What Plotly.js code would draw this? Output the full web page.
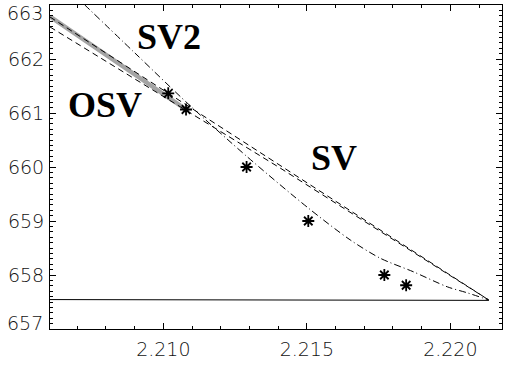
<!DOCTYPE html>
<html>
<head>
<meta charset="utf-8">
<script src="https://cdn.plot.ly/plotly-3.0.1.min.js"></script>
<style>
  html, body { margin: 0; padding: 0; background: #ffffff; }
  #chart { width: 505px; height: 367px; }
</style>
</head>
<body>
<div id="chart"></div>
<script>
// Measured points (asterisks)
const pointX = [2.21017, 2.21079, 2.21290, 2.21505, 2.21770, 2.21846];
const pointY = [661.365, 661.065, 660.00, 659.00, 658.00, 657.81];

// OSV: straight segment ending on the second point
const osvX = [2.20605, 2.21079];
const osvY = [662.787, 661.065];

// SV: two dashed extrapolations meeting the base level
const svUpperX = [2.20605, 2.22134];
const svUpperY = [662.778, 657.537];
const svLowerX = [2.20605, 2.21407, 2.22134];
const svLowerY = [662.593, 659.981, 657.537];

// SV2: curved dash-dot extrapolation
const sv2X = [2.20689, 2.20901, 2.21086, 2.21292, 2.21505, 2.21651, 2.21756, 2.21871, 2.21990, 2.22059, 2.22134];
const sv2Y = [663.19, 662.11, 661.17, 660.19, 659.24, 658.65, 658.31, 658.06, 657.78, 657.67, 657.537];

// Base level
const baseX = [2.20605, 2.22134];
const baseY = [657.545, 657.530];

// Axis ranges and ticks
const xRange = [2.20605, 2.2218];
const yRange = [657, 663];
const yTickVals = [657, 658, 659, 660, 661, 662, 663];
const yTickText = ['657', '658', '659', '660', '661', '662', '663'];

const traces = [
  { x: baseX, y: baseY, mode: 'lines', line: { color: '#000000', width: 1 }, hoverinfo: 'skip' },
  { x: osvX, y: osvY, mode: 'lines', line: { color: '#a4a4a4', width: 4.5 }, hoverinfo: 'skip' },
  { x: svUpperX, y: svUpperY, mode: 'lines', line: { color: '#000000', width: 1, dash: '6px,4px' }, hoverinfo: 'skip' },
  { x: svLowerX, y: svLowerY, mode: 'lines', line: { color: '#000000', width: 1, dash: '6px,4px' }, hoverinfo: 'skip' },
  { x: sv2X, y: sv2Y, mode: 'lines', line: { color: '#000000', width: 1, dash: '7px,3px,1px,3px', shape: 'spline', smoothing: 0.8 }, hoverinfo: 'skip' },
  { x: pointX, y: pointY, mode: 'markers', marker: { symbol: 'asterisk-open', size: 10, color: '#000000', line: { color: '#000000', width: 1.8 } }, hoverinfo: 'skip' }
];

const tickFont = { family: 'DejaVu Sans', size: 19, color: '#111111', weight: 300 };
const labelFont = { family: 'Liberation Serif', size: 36, color: '#000000', weight: 700 };

// The end labels of the value axis sit inside the frame, so they are drawn as text
// nudged toward the middle of the axis.
const edgeLabels = [0, yTickVals.length - 1].map(function (i) {
  return {
    text: yTickText[i], xref: 'paper', yref: 'y', x: 0, y: yTickVals[i],
    xanchor: 'right', yanchor: 'middle', xshift: -5, yshift: i === 0 ? 6 : -8,
    showarrow: false, font: tickFont
  };
});

const layout = {
  width: 505,
  height: 367,
  margin: { l: 50, r: 3, t: 5, b: 38 },
  paper_bgcolor: '#ffffff',
  plot_bgcolor: '#ffffff',
  showlegend: false,
  xaxis: {
    range: xRange,
    tick0: 2.210, dtick: 0.005,
    tickformat: '.3f',
    ticks: 'inside', ticklen: 6, tickwidth: 1, tickcolor: '#000000',
    minor: { dtick: 0.001, ticks: 'inside', ticklen: 3, tickwidth: 1, tickcolor: '#000000' },
    showline: true, linecolor: '#000000', linewidth: 1, mirror: 'allticks',
    showgrid: false, zeroline: false,
    tickfont: tickFont,
    ticklabelstandoff: 3
  },
  yaxis: {
    range: yRange,
    tickmode: 'array',
    tickvals: yTickVals,
    ticktext: yTickText.map(function (t, i) { return (i === 0 || i === yTickText.length - 1) ? '' : t; }),
    ticks: 'inside', ticklen: 6, tickwidth: 1, tickcolor: '#000000',
    minor: { tick0: 657, dtick: 0.1, ticks: 'inside', ticklen: 3, tickwidth: 1, tickcolor: '#000000' },
    showline: true, linecolor: '#000000', linewidth: 1, mirror: 'allticks',
    showgrid: false, zeroline: false,
    tickfont: tickFont,
    ticklabelstandoff: 1
  },
  annotations: [
    { text: 'SV2', x: 2.2102, y: 662.41, xref: 'x', yref: 'y', showarrow: false, font: labelFont },
    { text: 'OSV', x: 2.20797, y: 661.15, xref: 'x', yref: 'y', showarrow: false, font: labelFont },
    { text: 'SV', x: 2.21595, y: 660.17, xref: 'x', yref: 'y', showarrow: false, font: labelFont }
  ].concat(edgeLabels)
};

Plotly.newPlot('chart', traces, layout, { staticPlot: true, displayModeBar: false });
</script>
</body>
</html>
